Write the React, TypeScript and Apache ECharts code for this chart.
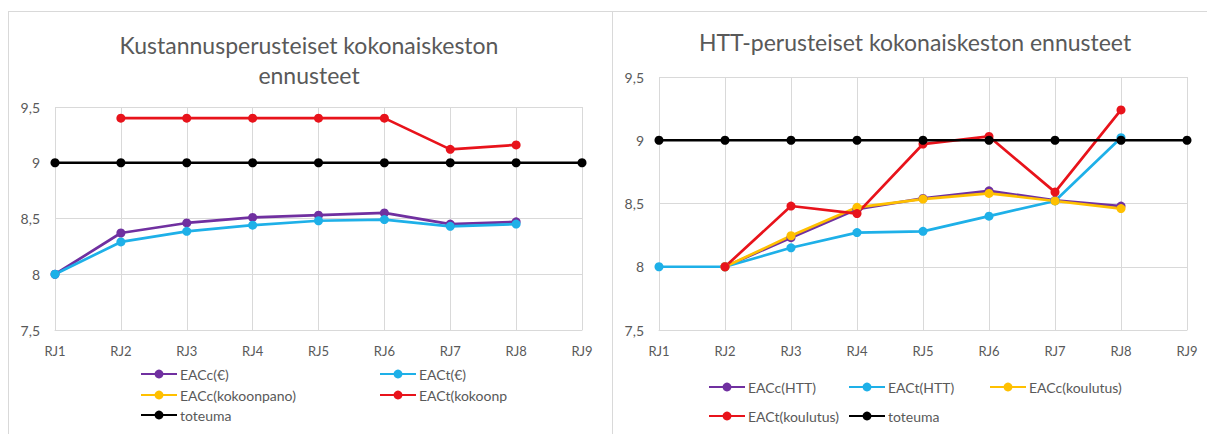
import { useEffect, useRef } from 'react';
import * as echarts from 'echarts';

// Reporting periods on the horizontal axis (shared by both panels)
const categories = ['RJ1', 'RJ2', 'RJ3', 'RJ4', 'RJ5', 'RJ6', 'RJ7', 'RJ8', 'RJ9'];
// Vertical axis tick labels (Finnish decimal comma)
const yTickLabels: Record<string, string> = { '7.5': '7,5', '8': '8', '8.5': '8,5', '9': '9', '9.5': '9,5' };

// Cost-based forecasts (left panel)
const eacCostEuro = [8, 8.37, 8.46, 8.51, 8.53, 8.55, 8.45, 8.47, null];
const eatCostEuro = [8, 8.29, 8.385, 8.44, 8.48, 8.49, 8.43, 8.45, null];
const eacAssembly = [null, null, null, null, null, null, null, null, null];
const eatAssembly = [null, 9.4, 9.4, 9.4, 9.4, 9.4, 9.12, 9.16, null];

// HTT-based forecasts (right panel)
const eacHtt = [null, 8, 8.23, 8.455, 8.54, 8.6, 8.525, 8.48, null];
const eatHtt = [8, 8, 8.15, 8.27, 8.28, 8.4, 8.52, 9.02, null];
const eacTraining = [null, 8, 8.245, 8.47, 8.535, 8.58, 8.52, 8.46, null];
const eatTraining = [null, 8, 8.48, 8.42, 8.97, 9.03, 8.59, 9.24, null];

// Realised total duration
const actualDuration = [9, 9, 9, 9, 9, 9, 9, 9, 9];

const FONT = 'Lato, "Open Sans", sans-serif';
const TEXT_GREY = '#595959';
const GRID_GREY = '#d9d9d9';

const COLORS = {
  purple: '#7030a0',
  cyan: '#1eb0e8',
  yellow: '#ffc000',
  red: '#e8131b',
  black: '#000000',
};

function lineSeries(name: string, data: (number | null)[], color: string, axis: number) {
  return {
    type: 'line',
    name,
    data,
    xAxisIndex: axis,
    yAxisIndex: axis,
    symbol: 'circle',
    symbolSize: 9,
    color,
    lineStyle: { width: 2.7, color },
    itemStyle: { color },
    connectNulls: false,
  };
}

function legendItem(name: string, left: number, top: number) {
  return {
    data: [name],
    left,
    top,
    padding: 0,
    itemWidth: 36,
    itemHeight: 11,
    selectedMode: false,
    formatter: (n: string) => (n === 'EACt(kokoonpano)' ? 'EACt(kokoonp' : n),
    textStyle: { fontFamily: FONT, fontSize: 14, color: TEXT_GREY, padding: [0, 0, 0, -2] },
  };
}

function xAxis(gridIndex: number) {
  return {
    type: 'category',
    gridIndex,
    data: categories,
    boundaryGap: false,
    axisLine: { lineStyle: { color: GRID_GREY, width: 1 } },
    axisTick: { show: false },
    splitLine: { show: true, lineStyle: { color: GRID_GREY, width: 1 } },
    axisLabel: { fontFamily: FONT, fontSize: 13, color: TEXT_GREY, margin: 14 },
  };
}

function yAxis(gridIndex: number) {
  return {
    type: 'value',
    gridIndex,
    min: 7.5,
    max: 9.5,
    interval: 0.5,
    axisLine: { show: false },
    axisTick: { show: false },
    splitLine: { show: true, lineStyle: { color: GRID_GREY, width: 1 } },
    axisLabel: {
      fontFamily: FONT,
      fontSize: 14,
      color: TEXT_GREY,
      margin: 15,
      formatter: (v: number) => yTickLabels[String(v)] ?? String(v),
    },
  };
}

export default function App() {
  const ref = useRef<HTMLDivElement>(null);

  useEffect(() => {
    if (!ref.current) return;
    const chart = echarts.init(ref.current, undefined, { renderer: 'svg' });

    chart.setOption({
      animation: false,
      backgroundColor: '#ffffff',
      grid: [
        { left: 55, top: 107, width: 527, height: 223 },
        { left: 659, top: 77, width: 528, height: 253 },
      ],
      xAxis: [xAxis(0), xAxis(1)],
      yAxis: [yAxis(0), yAxis(1)],
      legend: [
        legendItem('EACc(€)', 140, 367),
        legendItem('EACc(kokoonpano)', 140, 388),
        legendItem('toteuma', 140, 408),
        legendItem('EACt(€)', 379, 367),
        legendItem('EACt(kokoonpano)', 379, 388),
        legendItem('EACc(HTT)', 708, 380),
        legendItem('EACt(HTT)', 848, 380),
        legendItem('EACc(koulutus)', 989, 380),
        legendItem('EACt(koulutus)', 708, 409),
        legendItem('toteuma', 848, 409),
      ],
      graphic: [
        { type: 'line', shape: { x1: 8, y1: 11.5, x2: 1207, y2: 11.5 }, style: { stroke: GRID_GREY, lineWidth: 1 } },
        { type: 'line', shape: { x1: 8.5, y1: 11, x2: 8.5, y2: 434 }, style: { stroke: GRID_GREY, lineWidth: 1 } },
        { type: 'line', shape: { x1: 612.5, y1: 11, x2: 612.5, y2: 434 }, style: { stroke: GRID_GREY, lineWidth: 1 } },
        {
          type: 'text',
          x: 309,
          y: 60,
          style: {
            text: 'Kustannusperusteiset kokonaiskeston\nennusteet',
            textAlign: 'center',
            textVerticalAlign: 'middle',
            fontFamily: FONT,
            fontSize: 23,
            lineHeight: 30,
            fill: TEXT_GREY,
          },
        },
        {
          type: 'text',
          x: 915,
          y: 42,
          style: {
            text: 'HTT-perusteiset kokonaiskeston ennusteet',
            textAlign: 'center',
            textVerticalAlign: 'middle',
            fontFamily: FONT,
            fontSize: 23,
            fill: TEXT_GREY,
          },
        },
      ],
      series: [
        lineSeries('EACc(€)', eacCostEuro, COLORS.purple, 0),
        lineSeries('EACt(€)', eatCostEuro, COLORS.cyan, 0),
        lineSeries('EACc(kokoonpano)', eacAssembly, COLORS.yellow, 0),
        lineSeries('EACt(kokoonpano)', eatAssembly, COLORS.red, 0),
        lineSeries('toteuma', actualDuration, COLORS.black, 0),
        lineSeries('EACc(HTT)', eacHtt, COLORS.purple, 1),
        lineSeries('EACt(HTT)', eatHtt, COLORS.cyan, 1),
        lineSeries('EACc(koulutus)', eacTraining, COLORS.yellow, 1),
        lineSeries('EACt(koulutus)', eatTraining, COLORS.red, 1),
        lineSeries('toteuma', actualDuration, COLORS.black, 1),
      ],
    });

    return () => chart.dispose();
  }, []);

  return (
    <div
      ref={ref}
      style={{ position: 'fixed', left: 0, top: 0, width: 1207, height: 434, background: '#ffffff' }}
    />
  );
}
